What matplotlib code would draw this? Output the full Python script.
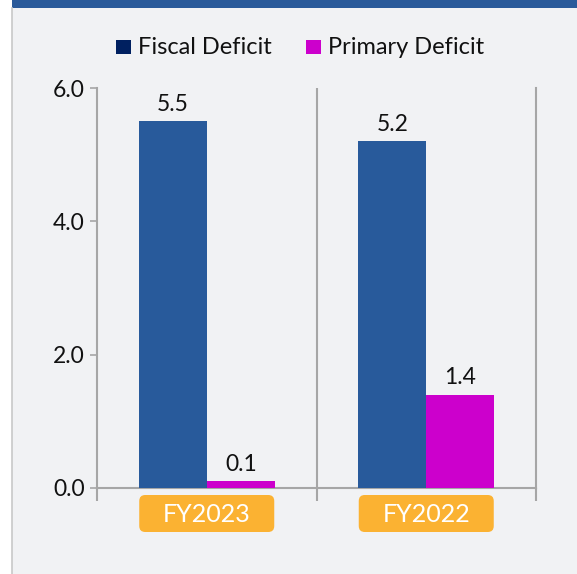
import matplotlib
matplotlib.use("Agg")
import matplotlib.pyplot as plt
from matplotlib.patches import FancyBboxPatch, Rectangle
import numpy as np

categories = ["FY2023", "FY2022"]
fiscal = [5.5, 5.2]
primary = [0.1, 1.4]
series_names = ["Fiscal Deficit", "Primary Deficit"]
yticks = [0.0, 2.0, 4.0, 6.0]

plt.rcParams['font.family'] = ['Lato', 'DejaVu Sans']

W, H = 577, 574
fig = plt.figure(figsize=(W/100, H/100), dpi=100)
fig.patch.set_facecolor('white')

# background panel
bg = fig.add_axes([0, 0, 1, 1], zorder=-10)
bg.set_xlim(0, W); bg.set_ylim(H, 0); bg.axis('off')
bg.add_patch(Rectangle((12, 8), W-12, H-8, color='#f1f2f4', lw=0))
bg.add_patch(Rectangle((12, 0), W-12, 8, color='#2a5a9a', lw=0))
bg.plot([12, 12], [8, H], color='#c8c8c8', lw=1.2)

ax = fig.add_axes([97/W, 1-488/H, (536-97)/W, (488-88)/H])
ax.set_facecolor('none')
x = np.arange(len(categories))
bw = 68/219.5
c_fiscal = '#285a9b'
c_primary = '#cc00cc'
b1 = ax.bar(x - bw/2, fiscal, bw, color=c_fiscal, zorder=3)
b2 = ax.bar(x + bw/2, primary, bw, color=c_primary, zorder=3)
for bars, vals in ((b1, fiscal), (b2, primary)):
    for r, v in zip(bars, vals):
        ax.text(r.get_x() + r.get_width()/2, v + 0.1, f"{v:.1f}",
                ha='center', va='bottom', fontsize=16.5, color='#111111')

ax.set_xlim(-0.5, len(categories) - 0.5)
ax.set_ylim(0, 6)
ax.set_yticks(yticks)
ax.set_yticklabels([f"{t:.1f}" for t in yticks], fontsize=16.5, color='#111111')
ax.tick_params(axis='y', length=5, color='#a6a6a6', width=1.2, pad=4)
ax.set_xticks([0.5] + [len(categories) - 0.5, -0.5])
ax.set_xticklabels([])
ax.tick_params(axis='x', length=9, color='#a6a6a6', width=1.5, direction='out')
for s in ['top']:
    ax.spines[s].set_visible(False)
for s in ['left', 'right', 'bottom']:
    ax.spines[s].set_color('#a6a6a6')
    ax.spines[s].set_linewidth(1.5)
ax.axvline(0.5, color='#a6a6a6', lw=1.5, zorder=1)

# category label boxes
for xi, cat in zip(x, categories):
    xd = ax.transData.transform((xi, 0))[0]
    bx = FancyBboxPatch((xd - 67.5, H - 532), 135, 37,
                        boxstyle="round,pad=0,rounding_size=6",
                        transform=None, facecolor='#fbb232', edgecolor='none',
                        figure=fig)
    fig.patches.append(bx)
    fig.text(xd/W, 1 - 514/H, cat, ha='center', va='center',
             fontsize=18, color='white')

# legend
lx = [116, 306]
for i, (name, col) in enumerate(zip(series_names, ['#002060', c_primary])):
    fig.patches.append(Rectangle((lx[i], H - 54), 15, 14, transform=None,
                                 facecolor=col, edgecolor='none', figure=fig))
    fig.text((lx[i] + 22)/W, 1 - 47/H, name, ha='left', va='center',
             fontsize=17, color='#111111')

fig.savefig('out.png', dpi=100)
